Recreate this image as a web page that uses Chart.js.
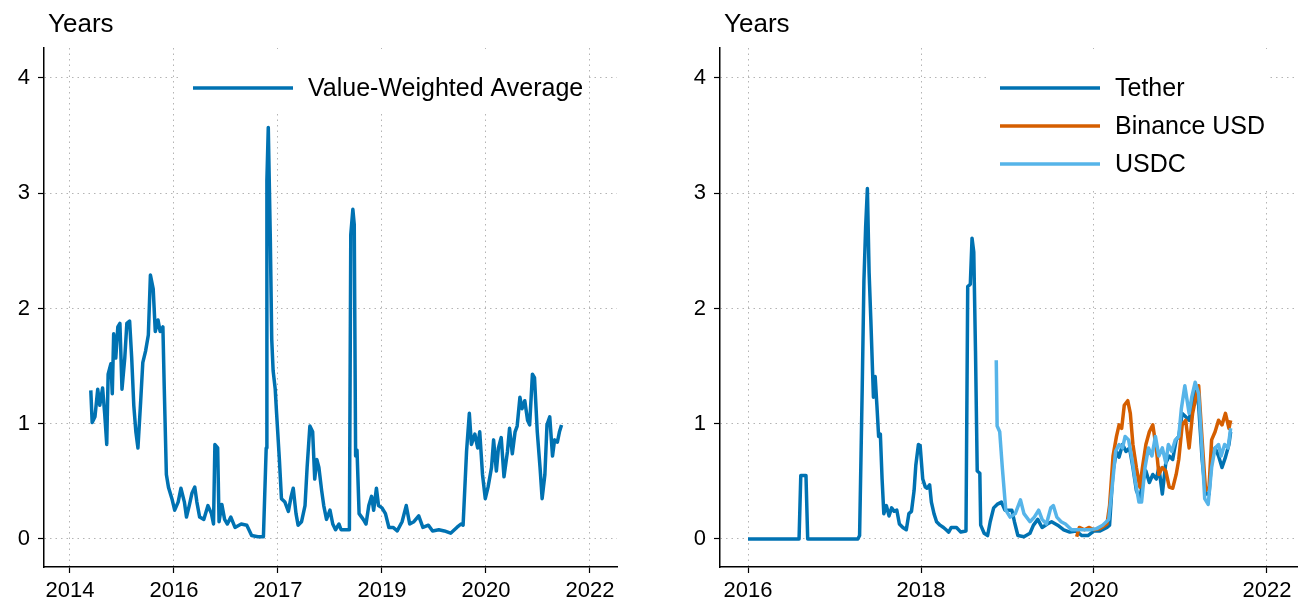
<!DOCTYPE html>
<html>
<head>
<meta charset="utf-8">
<script src="https://cdn.jsdelivr.net/npm/chart.js@4.4.0/dist/chart.umd.min.js"></script>
<style>
  html, body { margin: 0; padding: 0; background: #fff; }
  .panel { position: absolute; top: 0; width: 649px; height: 610px; }
  #left { left: 0; }
  #right { left: 649px; }
</style>
</head>
<body>
<div class="panel" id="left"><canvas id="c1"></canvas></div>
<div class="panel" id="right"><canvas id="c2"></canvas></div>
<script>
// ---------------- data ----------------
const yTicks = [0, 1, 2, 3, 4];

const leftTickPos = [2014, 2015.5, 2017, 2018.5, 2020, 2021.5];
const leftTickLabels = ['2014', '2016', '2017', '2019', '2020', '2022'];
const rightTickPos = [2016, 2018, 2020, 2022];
const rightTickLabels = ['2016', '2018', '2020', '2022'];

const vwaYears = [2014.30,2014.32,2014.36,2014.40,2014.43,2014.47,2014.50,2014.53,2014.55,2014.59,
  2014.61,2014.63,2014.66,2014.69,2014.72,2014.75,2014.79,2014.82,2014.86,2014.89,
  2014.92,2014.95,2014.98,2015.02,2015.05,2015.09,2015.13,2015.16,2015.20,2015.23,
  2015.27,2015.30,2015.34,2015.36,2015.39,2015.42,2015.47,2015.51,2015.56,2015.60,
  2015.65,2015.68,2015.72,2015.76,2015.80,2015.83,2015.87,2015.93,2015.99,2016.04,
  2016.07,2016.09,2016.13,2016.15,2016.19,2016.23,2016.27,2016.32,2016.38,2016.47,
  2016.55,2016.62,2016.71,2016.79,2016.83,2016.84,2016.86,2016.89,2016.91,2016.93,
  2016.96,2016.98,2017.02,2017.05,2017.10,2017.15,2017.19,2017.22,2017.26,2017.29,
  2017.34,2017.39,2017.42,2017.46,2017.50,2017.53,2017.56,2017.59,2017.63,2017.66,
  2017.70,2017.75,2017.79,2017.83,2017.88,2017.91,2017.99,2018.03,2018.05,2018.08,
  2018.10,2018.12,2018.14,2018.17,2018.23,2018.27,2018.31,2018.35,2018.38,2018.42,
  2018.45,2018.50,2018.55,2018.60,2018.66,2018.72,2018.79,2018.85,2018.90,2018.96,
  2019.03,2019.09,2019.17,2019.23,2019.32,2019.40,2019.49,2019.58,2019.64,2019.67,
  2019.72,2019.76,2019.79,2019.84,2019.88,2019.91,2019.95,2019.99,2020.03,2020.08,
  2020.11,2020.15,2020.18,2020.22,2020.26,2020.31,2020.34,2020.38,2020.42,2020.45,
  2020.49,2020.52,2020.56,2020.60,2020.63,2020.67,2020.70,2020.74,2020.78,2020.81,
  2020.85,2020.88,2020.92,2020.96,2020.99,2021.03,2021.06,2021.09];
const vwaValues = [1.29,1.01,1.06,1.30,1.16,1.31,1.09,0.82,1.43,1.52,
  1.26,1.78,1.57,1.84,1.87,1.30,1.57,1.87,1.89,1.57,
  1.16,0.93,0.79,1.20,1.53,1.63,1.77,2.29,2.17,1.80,
  1.90,1.80,1.84,1.30,0.56,0.45,0.35,0.25,0.32,0.44,
  0.32,0.19,0.29,0.40,0.45,0.32,0.19,0.17,0.29,0.22,
  0.13,0.82,0.79,0.15,0.30,0.17,0.13,0.19,0.10,0.13,
  0.12,0.03,0.02,0.02,0.79,3.11,3.57,2.58,1.73,1.46,
  1.30,1.09,0.69,0.35,0.32,0.24,0.37,0.44,0.22,0.12,
  0.15,0.29,0.62,0.98,0.93,0.52,0.69,0.62,0.42,0.29,
  0.17,0.25,0.13,0.08,0.13,0.08,0.08,0.08,2.64,2.86,
  2.73,0.72,0.77,0.22,0.17,0.13,0.29,0.37,0.25,0.44,
  0.29,0.27,0.22,0.10,0.10,0.07,0.15,0.29,0.13,0.15,
  0.20,0.10,0.12,0.07,0.08,0.07,0.05,0.10,0.13,0.12,
  0.76,1.09,0.82,0.91,0.79,0.93,0.56,0.35,0.45,0.62,
  0.86,0.59,0.79,0.88,0.54,0.76,0.96,0.74,0.93,0.98,
  1.23,1.13,1.20,1.03,0.99,1.43,1.40,0.93,0.62,0.35,
  0.56,0.99,1.06,0.72,0.86,0.84,0.93,0.99];

const tetherYears = [2016.00,2016.59,2016.61,2016.67,2016.69,2017.27,2017.29,2017.32,2017.34,2017.36,
  2017.38,2017.40,2017.42,2017.44,2017.45,2017.47,2017.49,2017.51,2017.53,2017.55,
  2017.57,2017.60,2017.63,2017.66,2017.69,2017.72,2017.75,2017.79,2017.83,2017.86,
  2017.89,2017.92,2017.94,2017.97,2017.99,2018.02,2018.05,2018.07,2018.10,2018.12,
  2018.15,2018.18,2018.22,2018.26,2018.29,2018.32,2018.35,2018.41,2018.46,2018.52,
  2018.54,2018.57,2018.59,2018.61,2018.63,2018.65,2018.68,2018.69,2018.73,2018.77,
  2018.80,2018.84,2018.88,2018.93,2018.97,2019.01,2019.05,2019.08,2019.12,2019.19,
  2019.26,2019.30,2019.35,2019.40,2019.46,2019.51,2019.58,2019.65,2019.72,2019.79,
  2019.86,2019.93,2020.00,2020.07,2020.15,2020.18,2020.22,2020.26,2020.29,2020.33,
  2020.37,2020.41,2020.45,2020.49,2020.53,2020.56,2020.60,2020.64,2020.68,2020.72,
  2020.75,2020.79,2020.83,2020.87,2020.91,2020.95,2020.98,2021.02,2021.06,2021.10,
  2021.14,2021.17,2021.21,2021.25,2021.29,2021.33,2021.36,2021.40,2021.44,2021.48,
  2021.52,2021.56,2021.58];
const tetherValues = [0,0,0.55,0.55,0,0,0.03,1.30,2.24,2.71,
  3.04,2.31,1.90,1.45,1.23,1.41,1.16,0.89,0.91,0.52,
  0.22,0.29,0.20,0.27,0.24,0.25,0.13,0.10,0.08,0.22,
  0.24,0.42,0.64,0.82,0.81,0.52,0.45,0.44,0.47,0.32,
  0.22,0.15,0.12,0.10,0.08,0.06,0.10,0.10,0.06,0.07,
  2.19,2.21,2.61,2.49,1.63,0.59,0.57,0.12,0.05,0.03,
  0.15,0.27,0.30,0.32,0.25,0.25,0.25,0.15,0.03,0.02,
  0.05,0.12,0.17,0.10,0.13,0.15,0.12,0.08,0.06,0.07,
  0.03,0.03,0.07,0.07,0.10,0.12,0.59,0.76,0.71,0.82,
  0.76,0.79,0.62,0.42,0.35,0.49,0.59,0.49,0.56,0.52,
  0.62,0.39,0.66,0.72,0.69,0.86,0.89,1.09,1.06,1.03,
  1.20,1.30,1.16,0.69,0.39,0.39,0.69,0.79,0.72,0.62,
  0.71,0.82,0.93];

const busdYears = [2019.80,2019.83,2019.89,2019.94,2020.00,2020.07,2020.15,2020.18,2020.22,2020.26,
  2020.29,2020.32,2020.35,2020.39,2020.42,2020.45,2020.49,2020.53,2020.56,2020.60,
  2020.64,2020.68,2020.72,2020.75,2020.79,2020.83,2020.87,2020.91,2020.95,2020.98,
  2021.02,2021.06,2021.10,2021.14,2021.17,2021.21,2021.25,2021.29,2021.33,2021.36,
  2021.40,2021.44,2021.48,2021.52,2021.56,2021.58];
const busdValues = [0.02,0.10,0.08,0.10,0.08,0.09,0.13,0.29,0.72,0.89,
  0.99,0.96,1.16,1.20,1.09,0.82,0.62,0.45,0.62,0.82,
  0.93,0.99,0.79,0.56,0.62,0.59,0.45,0.44,0.56,0.69,
  0.99,1.03,0.79,1.09,1.20,1.33,0.86,0.42,0.45,0.86,
  0.93,1.03,0.99,1.09,0.96,1.03];

const usdcYears = [2018.87,2018.88,2018.91,2018.94,2018.98,2019.03,2019.09,2019.15,2019.19,2019.26,
  2019.31,2019.36,2019.40,2019.45,2019.50,2019.53,2019.57,2019.62,2019.67,2019.74,
  2019.81,2019.89,2019.96,2020.03,2020.10,2020.17,2020.21,2020.25,2020.29,2020.33,
  2020.36,2020.40,2020.44,2020.48,2020.52,2020.55,2020.59,2020.63,2020.67,2020.71,
  2020.75,2020.79,2020.83,2020.86,2020.90,2020.94,2020.98,2021.01,2021.05,2021.10,
  2021.13,2021.17,2021.21,2021.25,2021.28,2021.32,2021.36,2021.40,2021.44,2021.47,
  2021.51,2021.55,2021.58];
const usdcValues = [1.55,0.98,0.93,0.62,0.25,0.19,0.22,0.34,0.22,0.15,
  0.19,0.25,0.17,0.13,0.27,0.29,0.19,0.15,0.13,0.08,
  0.08,0.08,0.08,0.09,0.12,0.17,0.45,0.76,0.82,0.79,
  0.89,0.86,0.69,0.49,0.32,0.32,0.62,0.79,0.72,0.89,
  0.72,0.79,0.66,0.82,0.76,0.86,0.89,1.13,1.33,1.09,
  1.23,1.36,1.26,0.76,0.35,0.30,0.62,0.79,0.82,0.72,
  0.82,0.79,0.96];

// ---------------- helpers ----------------
const FONT = '"Liberation Sans", Arial, sans-serif';
const LEGEND_FONT = '25px ' + FONT;
const toPoints = (xs, ys) => xs.map((x, i) => ({ x: x, y: ys[i] }));

function legendBox(chart, opts) {
  const ca = chart.chartArea;
  const ctx = chart.ctx;
  ctx.save();
  ctx.font = LEGEND_FONT;
  let maxW = 0;
  chart.data.datasets.forEach(d => { maxW = Math.max(maxW, ctx.measureText(d.label).width); });
  ctx.restore();
  const x0 = ca.left + opts.legendX;
  const n = chart.data.datasets.length;
  return {
    lineX: x0,
    left: x0 - 13,
    right: Math.min(ca.right, x0 + 115 + maxW + 4),
    top: ca.top,
    bottom: ca.top + 40 + (n - 1) * 38 + 25
  };
}

const panelDecor = {
  id: 'panelDecor',
  beforeDatasetsDraw(chart, args, opts) {
    const b = legendBox(chart, opts);
    const ctx = chart.ctx;
    ctx.save();
    ctx.fillStyle = '#ffffff';
    ctx.fillRect(b.left, b.top + 1, b.right - b.left, b.bottom - b.top);
    ctx.restore();
  },
  afterDraw(chart, args, opts) {
    const ctx = chart.ctx;
    const ca = chart.chartArea;
    const b = legendBox(chart, opts);
    ctx.save();
    // "Years" label above the y axis
    ctx.font = '26px ' + FONT;
    ctx.fillStyle = '#000';
    ctx.textAlign = 'left';
    ctx.textBaseline = 'middle';
    ctx.fillText('Years', ca.left + 4, 25);
    // legend rows
    ctx.font = LEGEND_FONT;
    chart.data.datasets.forEach((d, i) => {
      const y = ca.top + 40 + i * 38;
      ctx.strokeStyle = d.borderColor;
      ctx.lineWidth = 3.5;
      ctx.beginPath();
      ctx.moveTo(b.lineX, y);
      ctx.lineTo(b.lineX + 100, y);
      ctx.stroke();
      ctx.fillStyle = '#000';
      ctx.fillText(d.label, b.lineX + 115, y + 1);
    });
    ctx.restore();
  }
};

function makeOptions(xMin, xMax, tickPos, tickLabels, yAxisWidth, rightPad, legendX) {
  return {
    responsive: true,
    maintainAspectRatio: false,
    animation: false,
    layout: { padding: { left: 0, right: rightPad, top: 48, bottom: 0 } },
    plugins: {
      legend: { display: false },
      tooltip: { enabled: false },
      panelDecor: { legendX: legendX }
    },
    elements: { point: { radius: 0 }, line: { borderWidth: 3.5, tension: 0, borderJoinStyle: 'round' } },
    scales: {
      x: {
        type: 'linear',
        min: xMin,
        max: xMax,
        afterBuildTicks: s => { s.ticks = tickPos.map(v => ({ value: v })); },
        afterFit: s => { s.height = 43; },
        ticks: {
          font: { family: FONT, size: 22 },
          color: '#000',
          padding: 5,
          maxRotation: 0,
          callback: (v) => tickLabels[tickPos.indexOf(v)]
        },
        grid: { color: '#b4b4b4', lineWidth: 1, tickColor: '#000', tickLength: 6, tickWidth: 1.2 },
        border: { display: true, color: '#000', width: 1.5, dash: [1.5, 4] }
      },
      y: {
        min: -0.243,
        max: 4.26,
        afterBuildTicks: s => { s.ticks = yTicks.map(v => ({ value: v })); },
        afterFit: s => { s.width = yAxisWidth; },
        ticks: {
          font: { family: FONT, size: 22 },
          color: '#000',
          padding: 8
        },
        grid: { color: '#b4b4b4', lineWidth: 1, tickColor: '#000', tickLength: 6, tickWidth: 1.2 },
        border: { display: true, color: '#000', width: 1.5, dash: [1.5, 4] }
      }
    }
  };
}

// ---------------- left panel ----------------
new Chart(document.getElementById('c1'), {
  type: 'line',
  data: {
    datasets: [
      { label: 'Value-Weighted Average', data: toPoints(vwaYears, vwaValues), borderColor: '#0072B2', borderWidth: 3.5 }
    ]
  },
  options: makeOptions(2013.625, 2021.89, leftTickPos, leftTickLabels, 44, 32, 149),
  plugins: [panelDecor]
});

// ---------------- right panel ----------------
new Chart(document.getElementById('c2'), {
  type: 'line',
  data: {
    datasets: [
      { label: 'Tether', data: toPoints(tetherYears, tetherValues), borderColor: '#0072B2', borderWidth: 3.5, order: 3 },
      { label: 'Binance USD', data: toPoints(busdYears, busdValues), borderColor: '#D55E00', borderWidth: 3.5, order: 2 },
      { label: 'USDC', data: toPoints(usdcYears, usdcValues), borderColor: '#56B4E9', borderWidth: 3.5, order: 1 }
    ]
  },
  options: makeOptions(2015.676, 2022.347, rightTickPos, rightTickLabels, 71, 1, 280),
  plugins: [panelDecor]
});
</script>
</body>
</html>
